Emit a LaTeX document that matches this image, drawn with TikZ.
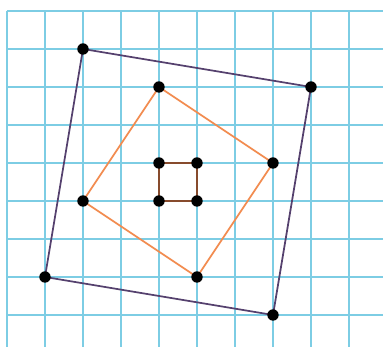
\documentclass[tikz,border=0pt]{standalone}
\definecolor{gridblue}{RGB}{125,205,228}
\definecolor{sqpurple}{RGB}{85,65,110}
\definecolor{sqorange}{RGB}{242,140,80}
\definecolor{sqbrown}{RGB}{135,75,45}
\tikzset{
  gridline/.style={draw=gridblue, line width=1.4pt},
  side/.style={line width=1.3pt, line join=round},
  pt/.style={circle, fill=black, inner sep=0pt, minimum size=0.3cm},
}
\begin{document}
\begin{tikzpicture}
\useasboundingbox[fill=white] (-0.184,0.289) rectangle (9.895,-8.842);
% grid
\foreach \i in {0,...,9} { \draw[gridline] (\i,0) -- (\i,-8.842); }
\foreach \j in {0,...,8} { \draw[gridline] (0,-\j) -- (9.895,-\j); }
% points
\coordinate (P1) at (2,-1);
\coordinate (P2) at (8,-2);
\coordinate (P3) at (7,-8);
\coordinate (P4) at (1,-7);
\coordinate (O1) at (4,-2);
\coordinate (O2) at (7,-4);
\coordinate (O3) at (5,-7);
\coordinate (O4) at (2,-5);
\coordinate (B1) at (4,-4);
\coordinate (B2) at (5,-4);
\coordinate (B3) at (5,-5);
\coordinate (B4) at (4,-5);
\draw[side, draw=sqpurple] (P1) -- (P2) -- (P3) -- (P4) -- cycle;
\draw[side, draw=sqorange] (O1) -- (O2) -- (O3) -- (O4) -- cycle;
\draw[side, draw=sqbrown] (B1) -- (B2) -- (B3) -- (B4) -- cycle;
\foreach \p in {P1,P2,P3,P4,O1,O2,O3,O4,B1,B2,B3,B4} { \node[pt] (n\p) at (\p) {}; }
\end{tikzpicture}
\end{document}
